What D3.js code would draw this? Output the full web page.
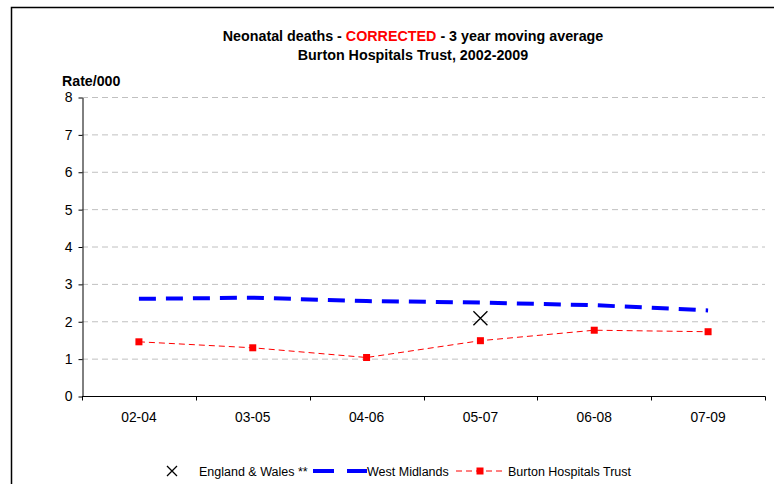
<!DOCTYPE html>
<html>
<head>
<meta charset="utf-8">
<script src="https://cdn.jsdelivr.net/npm/d3@7"></script>
<style>
  body { margin: 0; background: #fff; }
  svg { font-family: "Liberation Sans", Arial, sans-serif; }
</style>
</head>
<body>
<div id="chart"></div>
<script>
const periods = ['02-04', '03-05', '04-06', '05-07', '06-08', '07-09'];
const westMidlands = [2.60, 2.63, 2.54, 2.50, 2.43, 2.29];
const burton = [1.45, 1.29, 1.03, 1.48, 1.76, 1.72];
const englandWales = [null, null, null, 2.08, null, null];
const yTicks = [0, 1, 2, 3, 4, 5, 6, 7, 8];

const width = 774, height = 484;
const plot = { left: 82, right: 765, top: 97, bottom: 396 };

const svg = d3.select('#chart').append('svg')
    .attr('width', width)
    .attr('height', height);

// outer frame (right and bottom edges fall outside the picture)
svg.append('path')
    .attr('d', 'M11.5,' + height + ' V7.5 H' + width)
    .attr('fill', 'none')
    .attr('stroke', '#000')
    .attr('stroke-width', 1.5);

const x = d3.scaleBand().domain(periods).range([plot.left, plot.right]);
const y = d3.scaleLinear().domain([0, 8]).range([plot.bottom, plot.top]);

// gridlines
svg.append('g').selectAll('line')
    .data(yTicks.filter(d => d > 0))
  .enter().append('line')
    .attr('x1', plot.left).attr('x2', plot.right)
    .attr('y1', d => y(d) + 0.5).attr('y2', d => y(d) + 0.5)
    .attr('stroke', '#c0c0c0')
    .attr('stroke-dasharray', '6,4');

// y axis
const yAxis = svg.append('g')
    .attr('transform', 'translate(' + (plot.left + 0.5) + ',0.5)')
    .call(d3.axisLeft(y).tickValues(yTicks).tickSize(4).tickSizeOuter(0).tickPadding(6));
yAxis.selectAll('text').attr('font-size', 14).attr('fill', '#000').attr('font-family', null);
yAxis.select('.domain').attr('stroke', '#000');

// x axis with ticks at category boundaries
const xAxis = svg.append('g')
    .attr('transform', 'translate(0,' + (plot.bottom + 0.5) + ')');
xAxis.append('line')
    .attr('x1', plot.left).attr('x2', plot.right + 0.5)
    .attr('stroke', '#000');
xAxis.selectAll('.tk')
    .data(periods.concat(['end']))
  .enter().append('line')
    .attr('x1', (d, i) => Math.round(plot.left + i * x.bandwidth()) + 0.5)
    .attr('x2', (d, i) => Math.round(plot.left + i * x.bandwidth()) + 0.5)
    .attr('y1', 0).attr('y2', 4)
    .attr('stroke', '#000');
xAxis.selectAll('.lbl')
    .data(periods)
  .enter().append('text')
    .attr('x', d => x(d) + x.bandwidth() / 2)
    .attr('y', 25)
    .attr('text-anchor', 'middle')
    .attr('font-size', 13.8)
    .text(d => d);

const cx = d => x(d) + x.bandwidth() / 2;

// West Midlands
svg.append('path')
    .datum(periods.map((p, i) => [cx(p), y(westMidlands[i])]))
    .attr('d', d3.line())
    .attr('fill', 'none')
    .attr('stroke', '#0000ff')
    .attr('stroke-width', 4)
    .attr('stroke-dasharray', '17,10');

// Burton Hospitals Trust
svg.append('path')
    .datum(periods.map((p, i) => [cx(p), y(burton[i])]))
    .attr('d', d3.line())
    .attr('fill', 'none')
    .attr('stroke', '#ff0000')
    .attr('stroke-width', 1)
    .attr('stroke-dasharray', '6,4');
svg.selectAll('.bm')
    .data(periods)
  .enter().append('rect')
    .attr('x', d => cx(d) - 3.5)
    .attr('y', (d, i) => y(burton[i]) - 3.5)
    .attr('width', 7).attr('height', 7)
    .attr('fill', '#ff0000');

// England & Wales
const cross = (g, px, py, s) => g.append('path')
    .attr('d', `M${px - s},${py - s}L${px + s},${py + s}M${px - s},${py + s}L${px + s},${py - s}`)
    .attr('stroke', '#000')
    .attr('stroke-width', 1.3)
    .attr('fill', 'none');
periods.forEach((p, i) => {
  if (englandWales[i] != null) cross(svg, cx(p), y(englandWales[i]), 7);
});

// titles
const title = svg.append('text')
    .attr('x', 413).attr('y', 41)
    .attr('text-anchor', 'middle')
    .attr('font-size', 14.3).attr('font-weight', 'bold');
title.append('tspan').text('Neonatal deaths - ');
title.append('tspan').attr('fill', '#ff0000').text('CORRECTED');
title.append('tspan').text(' - 3 year moving average');
svg.append('text')
    .attr('x', 413).attr('y', 60)
    .attr('text-anchor', 'middle')
    .attr('font-size', 14.3).attr('font-weight', 'bold')
    .text('Burton Hospitals Trust, 2002-2009');
svg.append('text')
    .attr('x', 62).attr('y', 86)
    .attr('font-size', 14.2).attr('font-weight', 'bold')
    .text('Rate/000');

// legend
const ly = 471;
const legend = svg.append('g').attr('font-size', 12.5);
cross(legend, 172, ly, 5);
legend.append('text').attr('x', 199).attr('y', ly + 4.5).text('England & Wales **');
legend.append('line')
    .attr('x1', 313).attr('x2', 367).attr('y1', ly).attr('y2', ly)
    .attr('stroke', '#0000ff').attr('stroke-width', 4)
    .attr('stroke-dasharray', '21,13');
legend.append('text').attr('x', 367).attr('y', ly + 4.5).text('West Midlands');
legend.append('line')
    .attr('x1', 456).attr('x2', 506).attr('y1', ly).attr('y2', ly)
    .attr('stroke', '#ff0000').attr('stroke-width', 1)
    .attr('stroke-dasharray', '6,4');
legend.append('rect')
    .attr('x', 476.5).attr('y', ly - 3.5).attr('width', 7).attr('height', 7)
    .attr('fill', '#ff0000');
legend.append('text').attr('x', 508).attr('y', ly + 4.5).text('Burton Hospitals Trust');
</script>
</body>
</html>
